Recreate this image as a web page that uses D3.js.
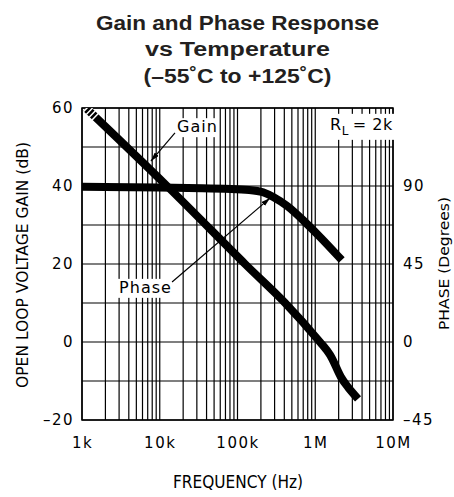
<!DOCTYPE html>
<html><head><meta charset="utf-8">
<script src="https://cdn.jsdelivr.net/npm/d3@7"></script>
<style>body{margin:0;background:#fff} svg{display:block}</style>
</head><body>
<script>
// ---- data ----
const gainFreq  = [1125, 12400, 125000, 410000, 1150000, 1550000, 2140000, 2640000, 3550000];
const gainDb    = [60, 40, 20, 10, 0, -3.3, -9, -11.6, -14.6];
const phaseFreq = [1000, 59600, 158000, 213000, 286000, 434000, 695000, 1150000, 2190000];
const phaseDeg  = [89.6, 88.7, 87.7, 86.7, 83.8, 79.0, 70.4, 60.8, 47.3];
const gainTicks  = [60, 40, 20, 0, -20];
const phaseTicks = [90, 45, 0, -45];
const freqTicks  = [1e3, 1e4, 1e5, 1e6, 1e7];
const freqLabels = ["1k", "10k", "100k", "1M", "10M"];
const titleLines = ["Gain and Phase Response", "vs Temperature", "(\u201355\u02DAC to +125\u02DAC)"];

const W = 454, H = 497;
const L = 82, R = 393, T = 108, B = 420;
const FONT = "'DejaVu Sans', sans-serif";

const svg = d3.select("body").append("svg").attr("width", W).attr("height", H);

const x  = d3.scaleLog().domain([1e3, 1e7]).range([L, R]);
const yG = d3.scaleLinear().domain([-20, 60]).range([B, T]);
const yP = d3.scaleLinear().domain([-45, 135]).range([B, T]);

// title
const tl = [283, 185, 188];
svg.append("g").selectAll("text").data(titleLines).join("text")
  .attr("x", 237.5).attr("y", (d, i) => 29.5 + i * 26.5)
  .attr("text-anchor", "middle")
  .attr("font-family", "'Liberation Sans', Arial, sans-serif")
  .attr("font-weight", "bold").attr("font-size", 20).attr("fill", "#231f20")
  .attr("textLength", (d, i) => tl[i]).attr("lengthAdjust", "spacingAndGlyphs")
  .text(d => d);

// grid
const vGrid = [];
for (let k = 3; k <= 6; k++) for (let m = 1; m <= 9; m++) vGrid.push(m * Math.pow(10, k));
vGrid.push(1e7);
const grid = svg.append("g").attr("stroke", "#000").attr("stroke-width", 1.2);
grid.selectAll("line.v").data(vGrid).join("line").attr("class", "v")
  .attr("x1", d => x(d)).attr("x2", d => x(d)).attr("y1", T).attr("y2", B);
grid.selectAll("line.h").data(d3.range(-20, 61, 10)).join("line").attr("class", "h")
  .attr("x1", L).attr("x2", R).attr("y1", d => yG(d)).attr("y2", d => yG(d));
svg.append("rect").attr("x", L).attr("y", T).attr("width", R - L).attr("height", B - T)
  .attr("fill", "none").attr("stroke", "#000").attr("stroke-width", 1.5);

// clip
svg.append("clipPath").attr("id", "plot").append("rect")
  .attr("x", L).attr("y", T).attr("width", R - L).attr("height", B - T);

// curves
const gainPts  = gainFreq.map((f, i) => [x(f), yG(gainDb[i])]);
const phasePts = phaseFreq.map((f, i) => [x(f), yP(phaseDeg[i])]);
const line = d3.line().curve(d3.curveCatmullRom.alpha(0.5));
const curves = svg.append("g").attr("clip-path", "url(#plot)")
  .attr("fill", "none").attr("stroke", "#000").attr("stroke-width", 8).attr("stroke-linecap", "butt");
curves.append("path").attr("d", d3.line().curve(d3.curveBasis)(phasePts));
curves.append("path").attr("d", line(gainPts));
// hatched start of gain band
curves.append("path").attr("d", d3.line()(gainPts.slice(0, 2)))
  .attr("stroke", "#fff").attr("stroke-width", 9).attr("stroke-dasharray", "1.5,2.5 1.5,2.5 1.5,2.5 1.5,2000");

// annotations
const defs = svg.append("defs");
defs.append("marker").attr("id", "arr").attr("viewBox", "0 0 10 6")
  .attr("refX", 10).attr("refY", 3).attr("markerWidth", 9).attr("markerHeight", 5.5)
  .attr("markerUnits", "userSpaceOnUse").attr("orient", "auto")
  .append("path").attr("d", "M0,0L10,3L0,6Z").attr("fill", "#000");

function boxedText(g, tx, ty, txt, size) {
  const t = g.append("text").attr("x", tx).attr("y", ty)
    .attr("font-family", FONT).attr("font-size", size).attr("letter-spacing", 1).text(txt);
  const bb = t.node().getBBox();
  g.insert("rect", "text").attr("x", bb.x - 2).attr("y", bb.y + 1).attr("width", bb.width + 3)
    .attr("height", bb.height).attr("fill", "#fff");
  return t;
}
const ann = svg.append("g");
const ga = ann.append("g"); boxedText(ga, x(16700), yG(53.8), "Gain", 16);
const pa = ann.append("g"); boxedText(pa, x(3000), yG(12.6), "Phase", 16);
ann.append("line").attr("x1", x(15700)).attr("y1", yG(53.6)).attr("x2", x(7700)).attr("y2", yG(46.4))
  .attr("stroke", "#000").attr("stroke-width", 1.2).attr("marker-end", "url(#arr)");
ann.append("line").attr("x1", x(14400)).attr("y1", yG(15.4)).attr("x2", x(262000)).attr("y2", yG(36.9))
  .attr("stroke", "#000").attr("stroke-width", 1.2).attr("marker-end", "url(#arr)");

// R_L label
const rg = ann.append("g");
const rt = rg.append("text").attr("x", x(1550000)).attr("y", yG(54.4))
  .attr("font-family", FONT).attr("font-size", 16).attr("letter-spacing", 0.5);
rt.append("tspan").text("R");
rt.append("tspan").attr("font-size", 12).attr("dy", 5).text("L");
rt.append("tspan").attr("dy", -5).attr("dx", 4).text("= 2k");
{
  const bb = rt.node().getBBox();
  rg.insert("rect", "text").attr("x", bb.x - 3).attr("y", bb.y - 1).attr("width", bb.width + 5)
    .attr("height", bb.height + 3).attr("fill", "#fff");
}

// axes
const fmt = d => d < 0 ? "\u2013" + Math.abs(d) : String(d);
function styleAxis(g) {
  g.select(".domain").remove();
  g.selectAll("text").attr("font-family", FONT).attr("font-size", 15).attr("fill", "#000")
    .attr("letter-spacing", 1.5);
}
svg.append("g").attr("transform", `translate(${L},0)`)
  .call(d3.axisLeft(yG).tickValues(gainTicks).tickFormat(fmt).tickSize(0).tickPadding(8))
  .call(styleAxis);
svg.append("g").attr("transform", `translate(${R},0)`)
  .call(d3.axisRight(yP).tickValues(phaseTicks).tickFormat(fmt).tickSize(0).tickPadding(10))
  .call(styleAxis);
svg.append("g").attr("transform", `translate(0,${B})`)
  .call(d3.axisBottom(x).tickValues(freqTicks).tickFormat((d, i) => freqLabels[i]).tickSize(0).tickPadding(17))
  .call(styleAxis);

// axis titles
svg.append("text").attr("transform", "translate(28,265) rotate(-90)")
  .attr("text-anchor", "middle").attr("font-family", FONT).attr("font-size", 16)
  .attr("textLength", 246).attr("lengthAdjust", "spacingAndGlyphs")
  .text("OPEN LOOP VOLTAGE GAIN (dB)");
svg.append("text").attr("transform", "translate(449,263.5) rotate(-90)")
  .attr("text-anchor", "middle").attr("font-family", FONT).attr("font-size", 14)
  .attr("textLength", 133).attr("lengthAdjust", "spacingAndGlyphs")
  .text("PHASE (Degrees)");
svg.append("text").attr("x", 238).attr("y", 488)
  .attr("text-anchor", "middle").attr("font-family", FONT).attr("font-size", 17)
  .attr("textLength", 130).attr("lengthAdjust", "spacingAndGlyphs")
  .text("FREQUENCY (Hz)");
</script>
</body></html>
